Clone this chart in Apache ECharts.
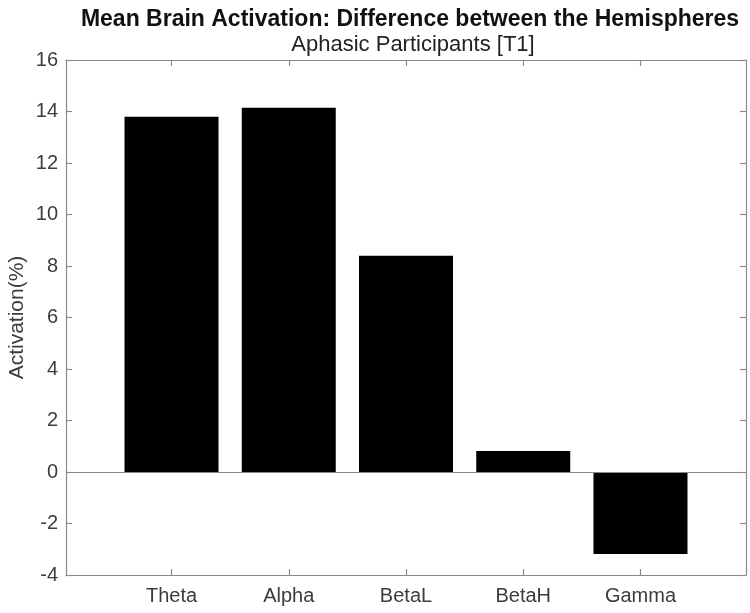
<!DOCTYPE html>
<html>
<head>
<meta charset="utf-8">
<script src="https://cdn.jsdelivr.net/npm/echarts@6/dist/echarts.min.js"></script>
<style>
html,body{margin:0;padding:0;background:#fff;}
#chart{width:750px;height:613px;}
</style>
</head>
<body>
<div id="chart"></div>
<script>
const categories = ['Theta', 'Alpha', 'BetaL', 'BetaH', 'Gamma'];
const activation = [13.80, 14.15, 8.40, 0.82, -3.18];
const yTicks = [-4, -2, 0, 2, 4, 6, 8, 10, 12, 14, 16];
const titleText = 'Mean Brain Activation: Difference between the Hemispheres';
const subtitleText = 'Aphasic Participants [T1]';
const yLabel = 'Activation(%)';

const positions = categories.map((c, i) => i + 1);
const barData = categories.map((c, i) => [positions[i], activation[i]]);

const FONT = '"Liberation Sans", Arial, Helvetica, sans-serif';
const AXC = '#8a8a8a';
const TXC = '#3c3c3c';

const chart = echarts.init(document.getElementById('chart'), null, {renderer: 'canvas'});
const xCommon = {
  type: 'value', min: 0.1, max: 5.9,
  splitLine: {show: false},
  axisLine: {show: true, onZero: false, lineStyle: {color: AXC, width: 1.2}},
  axisTick: {show: true, inside: true, length: 6, customValues: positions, lineStyle: {color: AXC, width: 1.2}}
};
const yCommon = {
  type: 'value', min: yTicks[0], max: yTicks[yTicks.length - 1], interval: 2,
  splitLine: {show: false},
  axisLine: {show: true, onZero: false, lineStyle: {color: AXC, width: 1.2}},
  axisTick: {show: true, inside: true, length: 6, lineStyle: {color: AXC, width: 1.2}}
};
chart.setOption({
  animation: false,
  backgroundColor: '#fff',
  title: [
    {text: titleText, left: 405, top: 3, textAlign: 'center',
     textStyle: {fontFamily: FONT, fontSize: 23, fontWeight: 'bold', color: '#111'}},
    {text: subtitleText, left: 408, top: 29, textAlign: 'center',
     textStyle: {fontFamily: FONT, fontSize: 22, fontWeight: 'normal', color: '#222'}}
  ],
  grid: {left: 66, right: 4, top: 60, bottom: 38, containLabel: false, outerBoundsMode: 'none'},
  xAxis: [
    Object.assign({}, xCommon, {
      position: 'bottom',
      axisLabel: {show: true, customValues: positions, margin: 11,
        formatter: v => categories[Math.round(v) - 1] || '',
        fontFamily: FONT, fontSize: 20, color: TXC}
    }),
    Object.assign({}, xCommon, {position: 'top', axisLabel: {show: false}})
  ],
  yAxis: [
    Object.assign({}, yCommon, {
      position: 'left',
      name: yLabel, nameLocation: 'middle', nameGap: 38, nameRotate: 90, nameMoveOverlap: false,
      nameTextStyle: {fontFamily: FONT, fontSize: 21, color: TXC},
      axisLabel: {show: true, margin: 8, fontFamily: FONT, fontSize: 20, color: TXC}
    }),
    Object.assign({}, yCommon, {position: 'right', axisLabel: {show: false}})
  ],
  series: [{
    type: 'bar',
    xAxisIndex: 0, yAxisIndex: 0,
    data: barData,
    barWidth: 94,
    itemStyle: {color: '#000', borderColor: '#000', borderWidth: 0},
    markLine: {
      silent: true, symbol: 'none', label: {show: false},
      lineStyle: {color: AXC, width: 1.2, type: 'solid'},
      data: [{yAxis: 0}]
    }
  }]
});
</script>
</body>
</html>
